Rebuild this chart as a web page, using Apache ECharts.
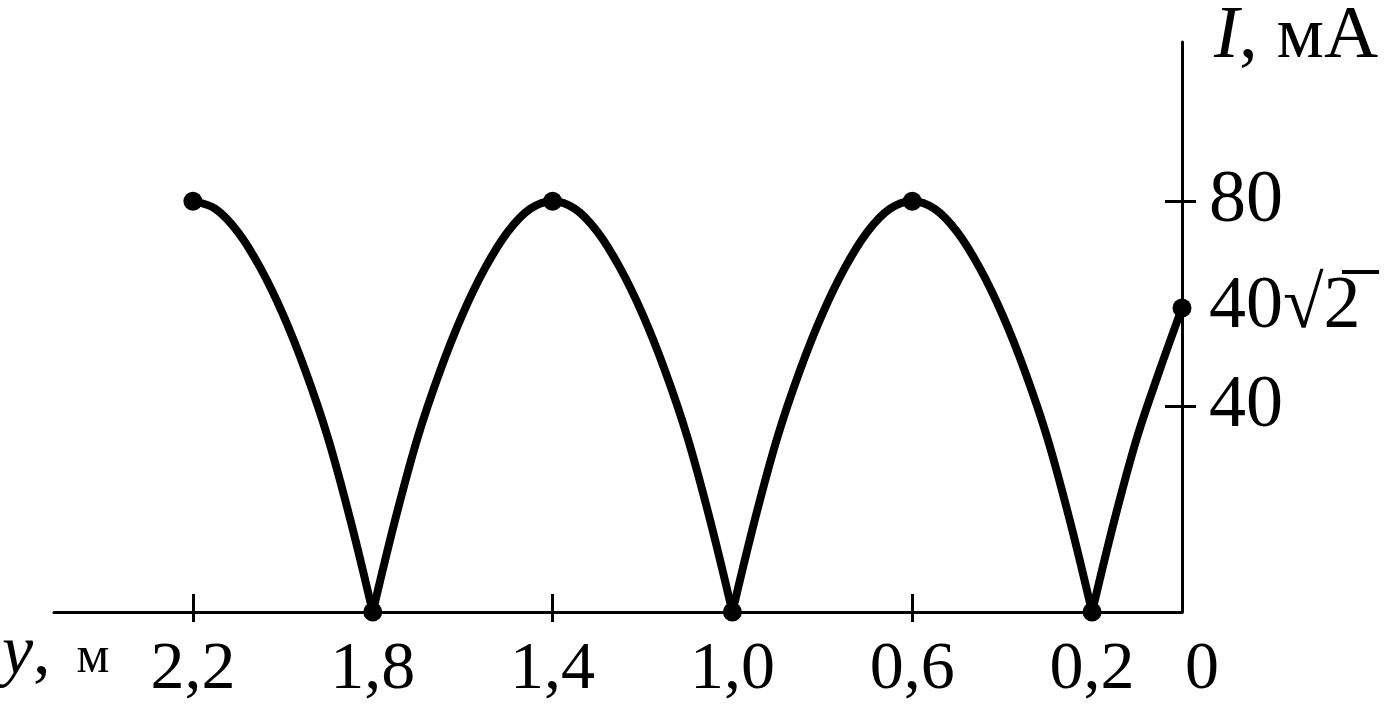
<!DOCTYPE html>
<html>
<head>
<meta charset="utf-8">
<script src="https://cdn.jsdelivr.net/npm/echarts@6.0.0/dist/echarts.min.js"></script>
<style>
  html, body { margin: 0; padding: 0; background: #fff; }
  #chart { width: 1386px; height: 710px; }
</style>
</head>
<body>
<div id="chart"></div>
<script>
// distance along the line, y (m), and current amplitude I (mA)
const yPos = [2.2, 2.15, 2.1, 2.05, 2.0, 1.95, 1.9, 1.85, 1.8,
              1.75, 1.7, 1.65, 1.6, 1.55, 1.5, 1.45, 1.4, 1.35, 1.3, 1.25, 1.2, 1.15, 1.1, 1.05, 1.0,
              0.95, 0.9, 0.85, 0.8, 0.75, 0.7, 0.65, 0.6, 0.55, 0.5, 0.45, 0.4, 0.35, 0.3, 0.25, 0.2,
              0.15, 0.1, 0.05, 0];
const current = [80, 78.5, 74, 67, 58, 47, 34, 18, 0,
                 18, 34, 47, 58, 67, 74, 78.5, 80, 78.5, 74, 67, 58, 47, 34, 18, 0,
                 18, 34, 47, 58, 67, 74, 78.5, 80, 78.5, 74, 67, 58, 47, 34, 18, 0,
                 18, 34, 47, 59.2];

// marked points
const dotY = [2.2, 1.8, 1.4, 1.0, 0.6, 0.2, 0];
const dotI = [80, 0, 80, 0, 80, 0, 59.2];

// axis ticks and labels
const xTickVals = [0.6, 1.4, 2.2];
const xLabelVals = [0, 0.2, 0.6, 1.0, 1.4, 1.8, 2.2];
const xLabelText = ['0', '0,2', '0,6', '1,0', '1,4', '1,8', '2,2'];
const yTickVals = [40, 80];
const yLabelVals = [40, 59.2, 80];
const yLabelText = ['40', '40\u221A2\u0305', '80'];

const SERIF = '"Liberation Serif", "DejaVu Serif", serif';

// split the curve into arches at zeros so the cusps stay sharp
const segments = [];
let cur = [];
for (let i = 0; i < yPos.length; i++) {
  cur.push([yPos[i], current[i]]);
  if (current[i] === 0 && i > 0 && i < yPos.length - 1) {
    segments.push(cur);
    cur = [[yPos[i], current[i]]];
  }
}
segments.push(cur);

function findLabel(vals, texts, v) {
  for (let i = 0; i < vals.length; i++) if (Math.abs(vals[i] - v) < 1e-6) return texts[i];
  return '';
}

const gridBox = { left: 54, right: 204, top: 42, bottom: 98, outerBoundsMode: 'none', containLabel: false };
const X_MIN = 0, X_MAX = 2.509, Y_MIN = 0, Y_MAX = 111;

const chart = echarts.init(document.getElementById('chart'), null, { renderer: 'canvas' });
const series = segments.map(seg => ({
  type: 'line', xAxisIndex: 0, yAxisIndex: 0, data: seg, smooth: 0.35,
  symbol: 'none', lineStyle: { color: '#000', width: 8 }, silent: true, z: 3
}));
series.push({
  type: 'scatter', xAxisIndex: 0, yAxisIndex: 0,
  data: dotY.map((y, i) => [y, dotI[i]]),
  symbol: 'circle', symbolSize: 19, itemStyle: { color: '#000', opacity: 1 }, z: 4, silent: true
});

const txt = (extra) => Object.assign({ fontFamily: SERIF, fontWeight: 'normal', color: '#000' }, extra);

chart.setOption({
  animation: false,
  backgroundColor: '#fff',
  title: [
    {
      text: '{i|I}{n|, мА}', left: 1214, top: 0, padding: 0,
      textStyle: {
        fontWeight: 'normal',
        rich: {
          i: txt({ fontStyle: 'italic', fontSize: 75 }),
          n: txt({ fontSize: 75 })
        }
      }
    },
    {
      text: '{i|y}{n|,}{m|м}', left: 2, top: 620, padding: 0,
      textStyle: {
        fontWeight: 'normal',
        rich: {
          i: txt({ fontStyle: 'italic', fontSize: 70, verticalAlign: 'bottom' }),
          n: txt({ fontSize: 70, verticalAlign: 'bottom' }),
          m: txt({ fontSize: 52, verticalAlign: 'bottom', padding: [0, 0, 6, 26] })
        }
      }
    }
  ],
  grid: [Object.assign({}, gridBox), Object.assign({}, gridBox)],
  xAxis: [
    {
      gridIndex: 0, type: 'value', inverse: true, min: X_MIN, max: X_MAX, position: 'bottom',
      splitLine: { show: false },
      axisLine: { show: true, onZero: false, lineStyle: { color: '#000', width: 3 } },
      axisTick: { show: true, customValues: xTickVals, inside: false, length: 10, lineStyle: { color: '#000', width: 3 } },
      axisLabel: {
        show: true, customValues: xLabelVals, margin: 24, color: '#000',
        fontFamily: SERIF, fontSize: 68,
        formatter: v => {
          const t = findLabel(xLabelVals, xLabelText, v);
          return v === 0 ? '{z|' + t + '}' : t;
        },
        rich: { z: txt({ fontSize: 68, padding: [0, 0, 0, 40] }) }
      }
    },
    {
      gridIndex: 1, type: 'value', inverse: true, min: X_MIN, max: X_MAX, position: 'bottom',
      splitLine: { show: false },
      axisLine: { show: false, onZero: false },
      axisTick: { show: true, customValues: xTickVals, inside: true, length: 18, lineStyle: { color: '#000', width: 3 } },
      axisLabel: { show: false }
    }
  ],
  yAxis: [
    {
      gridIndex: 0, type: 'value', min: Y_MIN, max: Y_MAX, position: 'right',
      splitLine: { show: false },
      axisLine: { show: true, onZero: false, lineStyle: { color: '#000', width: 3 } },
      axisTick: { show: true, customValues: yTickVals, inside: false, length: 14, lineStyle: { color: '#000', width: 3 } },
      axisLabel: {
        show: true, customValues: yLabelVals, margin: 27, color: '#000',
        fontFamily: SERIF, fontSize: 74, align: 'left',
        formatter: v => findLabel(yLabelVals, yLabelText, v)
      }
    },
    {
      gridIndex: 1, type: 'value', min: Y_MIN, max: Y_MAX, position: 'right',
      splitLine: { show: false },
      axisLine: { show: false, onZero: false },
      axisTick: { show: true, customValues: yTickVals, inside: true, length: 17, lineStyle: { color: '#000', width: 3 } },
      axisLabel: { show: false }
    }
  ],
  series: series
});
</script>
</body>
</html>
